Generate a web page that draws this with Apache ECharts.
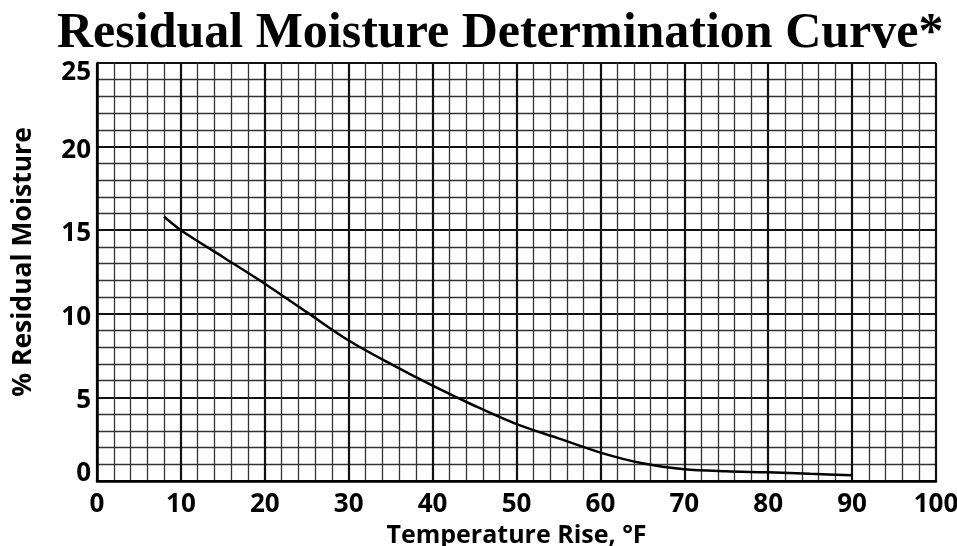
<!DOCTYPE html>
<html><head><meta charset="utf-8">
<script src="https://cdn.jsdelivr.net/npm/echarts@6/dist/echarts.min.js"></script>
<style>html,body{margin:0;padding:0;background:#fff}#c{width:957px;height:546px}</style>
</head><body><div id="c"></div>
<script>
var temperatureRise = [8, 10, 15, 20, 25, 30, 35, 40, 45, 50, 55, 60, 65, 70, 75, 80, 85, 90];
var residualMoisture = [15.8, 15.0, 13.4, 11.8, 10.1, 8.4, 7.0, 5.7, 4.5, 3.4, 2.55, 1.7, 1.06, 0.7, 0.58, 0.52, 0.43, 0.34];
var xTicks = [0, 10, 20, 30, 40, 50, 60, 70, 80, 90, 100];
var yTicks = [0, 5, 10, 15, 20, 25];

var chart = echarts.init(document.getElementById('c'));
var pts = temperatureRise.map(function (t, i) { return [t, residualMoisture[i]]; });
var labelFont = { fontFamily: 'Open Sans', fontWeight: 'bold', fontSize: 26, color: '#000' };
chart.setOption({
  animation: false,
  title: {
    text: 'Residual Moisture Determination Curve*',
    left: 52, top: 4,
    textStyle: { fontFamily: 'Liberation Serif', fontWeight: 'bold', fontSize: 50, color: '#000' }
  },
  grid: { left: 97, right: 21, top: 63, bottom: 65, outerBoundsMode: 'none', containLabel: false },
  xAxis: {
    type: 'value', min: 0, max: 100, interval: 10,
    name: 'Temperature Rise, °F', nameLocation: 'middle', nameGap: 39,
    nameTextStyle: { fontFamily: 'Open Sans', fontWeight: 'bold', fontSize: 25, color: '#000' },
    axisLine: { show: true, lineStyle: { color: '#000', width: 2.5 } },
    axisTick: { show: false },
    axisLabel: Object.assign({ margin: 11,
      formatter: function (v) { return xTicks.indexOf(v) >= 0 ? String(v) : ''; } }, labelFont),
    splitLine: { show: true, lineStyle: { color: '#111', width: 2.2 } },
    minorTick: { show: false, splitNumber: 5 },
    minorSplitLine: { show: true, lineStyle: { color: '#333', width: 1.3 } }
  },
  yAxis: {
    type: 'value', min: 0, max: 25, interval: 5,
    name: '% Residual Moisture', nameLocation: 'middle', nameGap: 60, nameRotate: 90,
    nameTextStyle: { fontFamily: 'Open Sans', fontWeight: 'bold', fontSize: 26.5, color: '#000', padding: [0, 0, 0, 20] },
    axisLine: { show: true, lineStyle: { color: '#000', width: 2.5 } },
    axisTick: { show: false },
    axisLabel: { margin: 6,
      formatter: function (v) {
        if (yTicks.indexOf(v) < 0) return '';
        if (v === 25) return '{dn|' + v + '}';
        if (v === 0) return '{up|' + v + '}';
        return '{sd|' + v + '}';
      },
      rich: {
        dn: Object.assign({ padding: [20, 0, 0, 0] }, labelFont),
        up: Object.assign({ padding: [0, 0, 14, 0] }, labelFont),
        sd: Object.assign({ padding: [7, 0, 0, 0] }, labelFont)
      }
    },
    splitLine: { show: true, lineStyle: { color: '#111', width: 2.2 } },
    minorTick: { show: false, splitNumber: 5 },
    minorSplitLine: { show: true, lineStyle: { color: '#333', width: 1.3 } }
  },
  series: [{
    type: 'line', data: pts, smooth: 0.3, symbol: 'none',
    lineStyle: { color: '#000', width: 2.5 }
  }]
});
</script></body></html>
